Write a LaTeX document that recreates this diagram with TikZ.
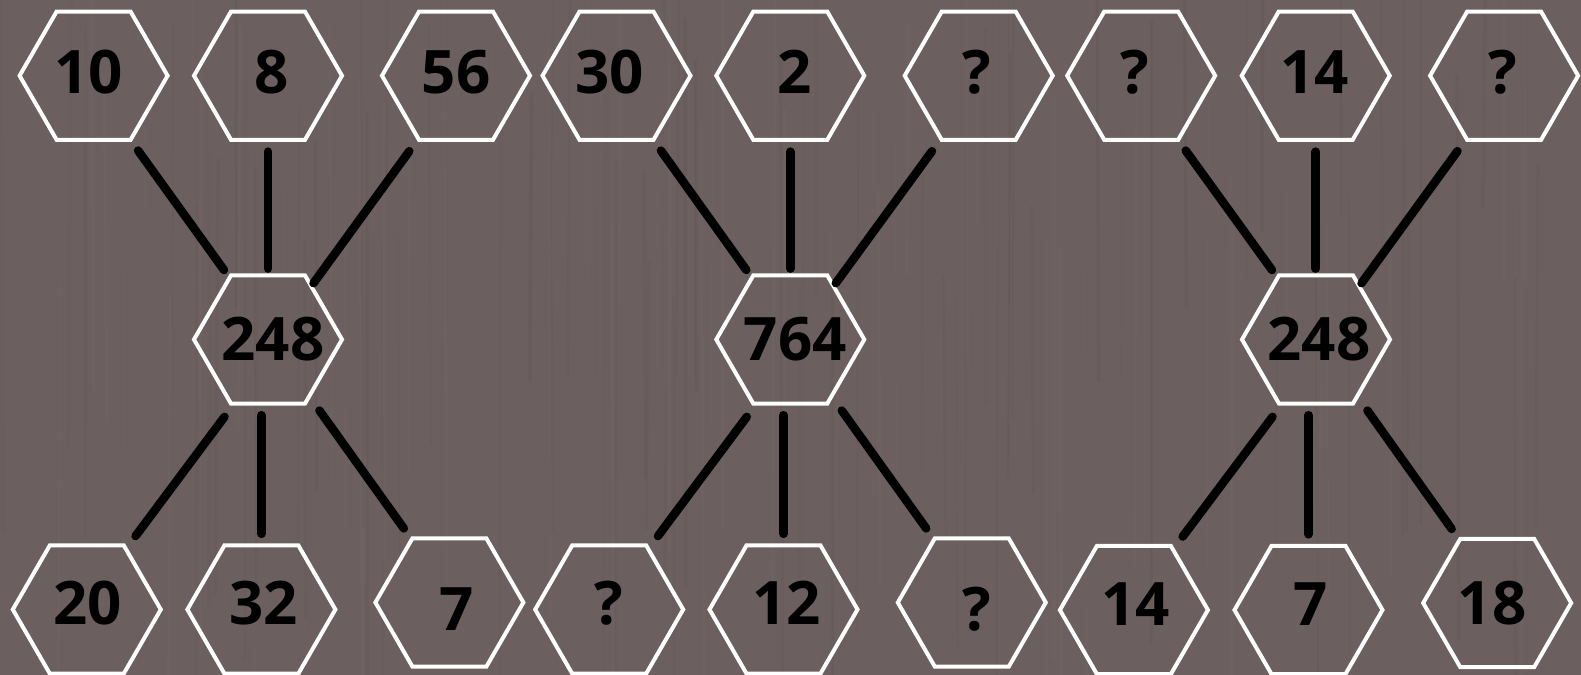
\documentclass[tikz,border=0pt]{standalone}
\usepackage{fontspec}
\setmainfont{Open Sans}
\usetikzlibrary{shapes.geometric}
\definecolor{bgwood}{HTML}{6B5F5F}
\definecolor{graindark}{HTML}{594D4D}
\definecolor{grainlight}{HTML}{7A6E6E}
% text centred in a zero-size box, shifted by (#1,#2)
\newcommand\shtxt[3]{\makebox[0pt]{\hspace*{\dimexpr 2\dimexpr #1\relax\relax}\raisebox{\dimexpr #2-10.7pt\relax}[0pt][0pt]{#3}}}
\tikzset{
  hexa/.style={shape=regular polygon, regular polygon sides=6, minimum size=74pt,
    inner sep=0pt, draw=white, line width=2pt, text=black,
    font=\fontsize{30pt}{30pt}\selectfont\bfseries},
  conn/.style={draw=black, line width=4.25pt, line cap=round},
  cTL/.style={conn, shorten <=5.4pt, shorten >=3.7pt},
  cTR/.style={conn, shorten <=6.6pt, shorten >=0.8pt},
  cBL/.style={conn, shorten <=7pt, shorten >=7pt},
  cBR/.style={conn, shorten <=7.7pt, shorten >=5.7pt},
  cVT/.style={conn, shorten <=4.9pt, shorten >=2.4pt},
  cVB/.style={conn, shorten <=4.8pt, shorten >=4.8pt},
}
\begin{document}
\begin{tikzpicture}[x=0.5pt,y=-0.5pt]
\useasboundingbox (0,0) rectangle (1581,675);
\fill[bgwood] (0,0) rectangle (1581,675);
% faint wood grain
\begin{scope}
\clip (0,0) rectangle (1581,675);
\pgfmathsetseed{7}
\foreach \i in {1,...,140}{
  \pgfmathsetmacro\gx{rnd*1581}
  \pgfmathsetmacro\gy{rnd*400-100}
  \pgfmathsetmacro\gl{250+rnd*400}
  \pgfmathsetmacro\gw{0.4+rnd*1.6}
  \pgfmathsetmacro\go{0.08+rnd*0.12}
  \ifodd\i
    \draw[graindark, line width=\gw pt, opacity=\go] (\gx,\gy) -- ++(rnd*6-3,\gl);
  \else
    \draw[grainlight, line width=\gw pt, opacity=\go] (\gx,\gy) -- ++(rnd*6-3,\gl);
  \fi
}
\end{scope}

% group 1
\node[hexa] (a1) at (93.6,75.7) {\shtxt{-2.6pt}{1.6pt}{10}};
\node[hexa] (a2) at (268,75.7) {\shtxt{2pt}{1.6pt}{8}};
\node[hexa] (a3) at (456,75.7) {\shtxt{0pt}{1.6pt}{56}};
\node[hexa] (am) at (268,339.5) {\shtxt{2.5pt}{0pt}{248}};
\node[hexa] (ab1) at (86.8,609.5) {\shtxt{0.5pt}{3.2pt}{20}};
\node[hexa] (ab2) at (261.4,609.5) {\shtxt{1pt}{3.2pt}{32}};
\node[hexa] (ab3) at (449.4,602.5) {\shtxt{3.5pt}{-3.2pt}{7}};

% group 2
\node[hexa] (b1) at (616.5,75.7) {\shtxt{-3.5pt}{1.6pt}{30}};
\node[hexa] (b2) at (790.3,75.7) {\shtxt{2pt}{1.6pt}{2}};
\node[hexa] (b3) at (978.7,75.7) {\shtxt{-0.8pt}{1.6pt}{?}};
\node[hexa] (bm) at (790.3,339.5) {\shtxt{2.5pt}{0pt}{764}};
\node[hexa] (bb1) at (609.2,609.5) {\shtxt{0pt}{3.2pt}{?}};
\node[hexa] (bb2) at (783.5,609.5) {\shtxt{1.7pt}{3.2pt}{12}};
\node[hexa] (bb3) at (971.8,602.5) {\shtxt{2.5pt}{-3.2pt}{?}};

% group 3
\node[hexa] (c1) at (1141.2,75.7) {\shtxt{-3.2pt}{1.6pt}{?}};
\node[hexa] (c2) at (1315.7,75.7) {\shtxt{-0.7pt}{1.6pt}{14}};
\node[hexa] (c3) at (1504.1,75.7) {\shtxt{-0.5pt}{1.6pt}{?}};
\node[hexa] (cm) at (1316,339.5) {\shtxt{1.5pt}{0pt}{248}};
\node[hexa] (cb1) at (1133.9,610) {\shtxt{1pt}{3.2pt}{14}};
\node[hexa] (cb2) at (1308.5,610) {\shtxt{1.2pt}{3.2pt}{7}};
\node[hexa] (cb3) at (1497.2,603) {\shtxt{-2.5pt}{0pt}{18}};

% connectors
\foreach \g in {a,b,c}{
  \draw[cTL] (\g1.-60) -- (\g m.122);
  \draw[cVT] (\g2.south) -- (\g2.south |- \g m.north);
  \draw[cTR] (\g3.-121) -- (\g m.51);
  \draw[cBL] (\g m.-118) -- (\g b1.57);
  \draw[cVB] (\g b2.north) -- (\g b2.north |- \g m.south);
  \draw[cBR] (\g m.-54) -- (\g b3.121);
}
\end{tikzpicture}
\end{document}
